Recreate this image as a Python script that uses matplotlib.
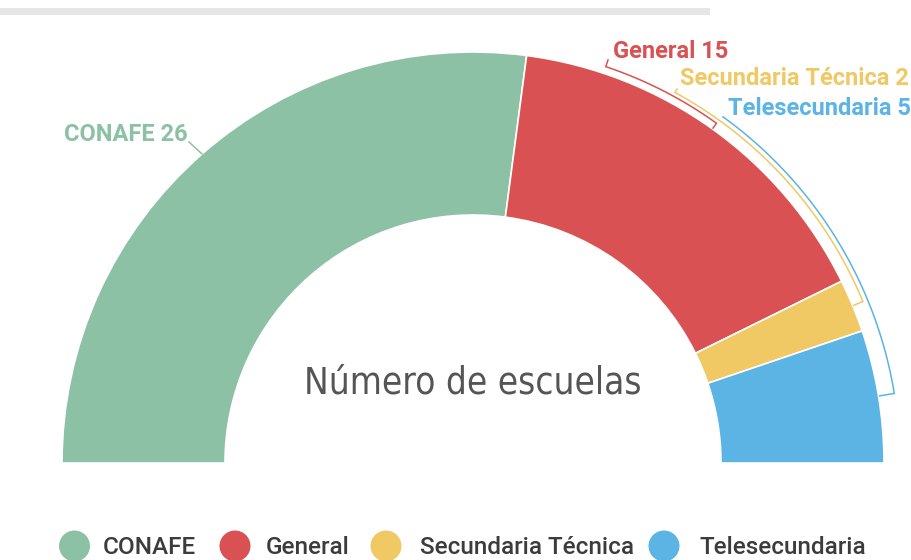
import numpy as np
import matplotlib
matplotlib.use("Agg")
import matplotlib.pyplot as plt
from matplotlib.patches import Rectangle, Circle

categories = ["CONAFE", "General", "Secundaria Técnica", "Telesecundaria"]
values = [26, 15, 2, 5]
colors = ["#8DC1A5", "#D95152", "#F0C965", "#5BB4E3"]

W, H = 912, 560
fig = plt.figure(figsize=(W / 100, H / 100), dpi=100)
ax = fig.add_axes([0, 0, 1, 1])

cx, cy = 473, 97
R = 411
RIN = 248
total = sum(values)

wedges, _ = ax.pie(values + [total], radius=R, center=(cx, cy), startangle=180,
                   counterclock=False, colors=colors + ["white"],
                   wedgeprops=dict(width=R - RIN, edgecolor="white", linewidth=1.2))
wedges[-1].set_visible(False)

ax.set_xlim(0, W)
ax.set_ylim(0, H)
ax.set_aspect("equal")
ax.axis("off")

# top gray bar
ax.add_patch(Rectangle((0, H - 15), 710, 7, color="#e6e6e6", lw=0))

# mid angles of slices
cum = np.cumsum([0] + values)
mids = [180 - 180 * (cum[i] + cum[i + 1]) / 2 / total for i in range(len(values))]

lab_font = dict(family=["Roboto", "DejaVu Sans"], fontsize=17, fontweight="bold")

# CONAFE label (left)
m = np.radians(mids[0])
ax.text(188, H - 141, f"{categories[0]} {values[0]}", ha="right", va="baseline",
        color=colors[0], **lab_font)
ax.plot([189, cx + R * np.cos(m)], [H - 142, cy + R * np.sin(m)],
        color=colors[0], lw=1.1)

# right labels with arc connectors
label_pos = [(613, 58), (680, 85), (728, 115)]
starts = [(608, 60), (677, 89), (723, 117)]
radii = [418, 422, 427]
for k in range(1, 4):
    lx, ly = label_pos[k - 1]
    ax.text(lx, H - ly, f"{categories[k]} {values[k]}", ha="left", va="baseline",
            color=colors[k], **lab_font)
    sx, sy = starts[k - 1]
    sY = H - sy
    a0 = np.degrees(np.arctan2(sY - cy, sx - cx))
    rc = radii[k - 1]
    angs = np.radians(np.linspace(a0, mids[k], 80))
    xs = [sx] + list(cx + rc * np.cos(angs)) + [cx + (R + 1) * np.cos(angs[-1])]
    ys = [sY] + list(cy + rc * np.sin(angs)) + [cy + (R + 1) * np.sin(angs[-1])]
    ax.plot(xs, ys, color=colors[k], lw=1.1, solid_joinstyle="miter")

# center title
ax.text(cx, H - 394, "Número de escuelas", ha="center", va="baseline",
        fontsize=26.5, color="#555555", fontstretch="condensed",
        family=["DejaVu Sans", "Roboto"])

# legend
leg_circ_x = [74.5, 235, 386, 664]
leg_text_x = [103, 266, 420, 700]
for c, cxl, tx, col in zip(categories, leg_circ_x, leg_text_x, colors):
    ax.add_patch(Circle((cxl, H - 546), 15.5, color=col, lw=0))
    ax.text(tx, H - 554, c, ha="left", va="baseline", fontsize=17.5,
            fontweight="medium", color="#3c3c3c", family=["Roboto", "DejaVu Sans"])

fig.savefig("out.png", dpi=100)
